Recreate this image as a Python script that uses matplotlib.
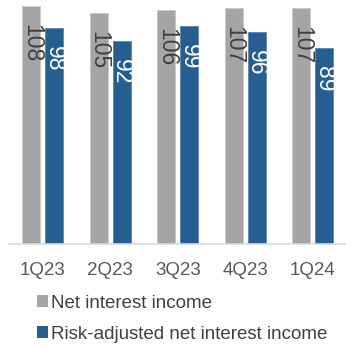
import matplotlib.pyplot as plt
from matplotlib.patches import Patch
from matplotlib.transforms import offset_copy
import numpy as np

plt.rcParams['font.family'] = ['Liberation Sans', 'DejaVu Sans']

# Quarterly values
quarters = ["1Q23", "2Q23", "3Q23", "4Q23", "1Q24"]
net_interest = [108, 105, 106, 107, 107]
risk_adjusted = [98, 92, 99, 96, 89]
series_names = ["Net interest income", "Risk-adjusted net interest income"]

gray = "#A5A5A5"
blue = "#255E91"

fig = plt.figure(figsize=(3.46, 3.47), dpi=100)
ax = fig.add_axes([9 / 346, 103 / 347, 337.5 / 346, 244 / 347])

x = np.arange(len(quarters))
w = 0.267
off = 0.167
b1 = ax.bar(x - off, net_interest, w, color=gray, edgecolor="#C8C8C8", linewidth=0.6)
b2 = ax.bar(x + off, risk_adjusted, w, color=blue, edgecolor="#5C86AD", linewidth=0.6)

# value labels, rotated, inside the top of each bar
shifted = offset_copy(ax.transData, fig=fig, x=0, y=-18, units="dots")
for bars, vals, col in [(b1, net_interest, "#404040"), (b2, risk_adjusted, "white")]:
    for rect, v in zip(bars, vals):
        ax.text(rect.get_x() + rect.get_width() / 2, v, str(v),
                transform=shifted, rotation=270,
                ha="center", va="top", fontsize=16.5, color=col)

ax.set_xlim(-0.5, 4.5)
ax.set_ylim(0, 110.7)
ax.set_xticks(x)
ax.set_xticklabels(quarters, fontsize=13.5, color="#595959")
ax.tick_params(axis="x", length=0, pad=13)
ax.set_yticks([])
for s in ["top", "right", "left"]:
    ax.spines[s].set_visible(False)
ax.spines["bottom"].set_color("#D9D9D9")
ax.spines["bottom"].set_linewidth(1.2)

handles = [Patch(facecolor=gray), Patch(facecolor=blue)]
fig.legend(handles, series_names, loc="upper left",
           bbox_to_anchor=(37 / 346, 1 - 294.5 / 347), frameon=False,
           fontsize=13.5, labelcolor="#404040", borderaxespad=0, borderpad=0,
           handlelength=0.6, handleheight=0.6, handletextpad=0.15,
           labelspacing=0.76)

fig.savefig("out.png", dpi=100)
